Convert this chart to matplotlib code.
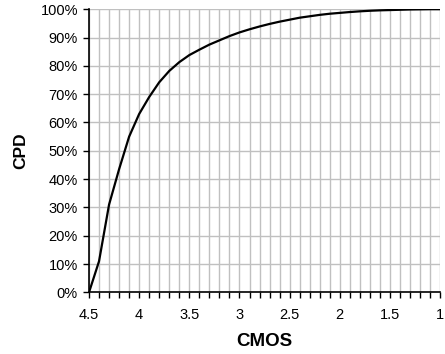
import matplotlib
matplotlib.use("Agg")
import matplotlib.pyplot as plt
from matplotlib.ticker import MultipleLocator, FuncFormatter

cmos = [4.5, 4.4, 4.3, 4.2, 4.1, 4.0, 3.9, 3.8, 3.7, 3.6, 3.5, 3.4, 3.3, 3.2, 3.1,
        3.0, 2.9, 2.8, 2.7, 2.6, 2.5, 2.4, 2.3, 2.2, 2.1, 2.0, 1.9, 1.8, 1.7, 1.6,
        1.5, 1.4, 1.3, 1.2, 1.1, 1.0]
cpd = [0.0, 11.0, 31.0, 43.5, 55.0, 63.0, 69.0, 74.2, 78.2, 81.3, 83.8, 85.7, 87.5,
       89.0, 90.5, 91.8, 92.9, 93.9, 94.8, 95.6, 96.3, 97.0, 97.5, 98.0, 98.4, 98.7,
       99.0, 99.25, 99.45, 99.6, 99.7, 99.8, 99.9, 99.95, 100.0, 100.0]

plt.rcParams['font.family'] = ['Liberation Sans', 'DejaVu Sans']

fig = plt.figure(figsize=(4.45, 3.54), dpi=100)
ax = fig.add_axes([0.2, 0.174, 0.789, 0.8])

ax.plot(cmos, cpd, color='black', lw=1.6, zorder=3)
ax.set_xlim(4.5, 1.0)
ax.set_ylim(0, 100)

ax.xaxis.set_major_locator(MultipleLocator(0.5))
ax.xaxis.set_minor_locator(MultipleLocator(0.1))
ax.yaxis.set_major_locator(MultipleLocator(10))
ax.xaxis.set_major_formatter(FuncFormatter(lambda v, p: f"{v:g}"))
ax.yaxis.set_major_formatter(FuncFormatter(lambda v, p: f"{v:.0f}%"))

ax.grid(True, which='both', axis='x', color='#c0c0c0', lw=1)
ax.grid(True, which='major', axis='y', color='#c0c0c0', lw=1)
ax.set_axisbelow(True)

for s in ['top', 'right']:
    ax.spines[s].set_visible(False)
for s in ['left', 'bottom']:
    ax.spines[s].set_color('black')
    ax.spines[s].set_linewidth(1.2)

ax.tick_params(axis='both', which='both', direction='out', length=4, width=1,
               color='black', labelsize=10.5, labelcolor='black')
ax.tick_params(axis='x', which='major', pad=7)
ax.tick_params(axis='y', which='major', pad=4)

ax.set_xlabel('CMOS', fontsize=13.5, fontweight='bold', labelpad=8)
ax.set_ylabel('CPD', fontsize=12.5, fontweight='bold', labelpad=9)

fig.savefig('out.png', dpi=100)
